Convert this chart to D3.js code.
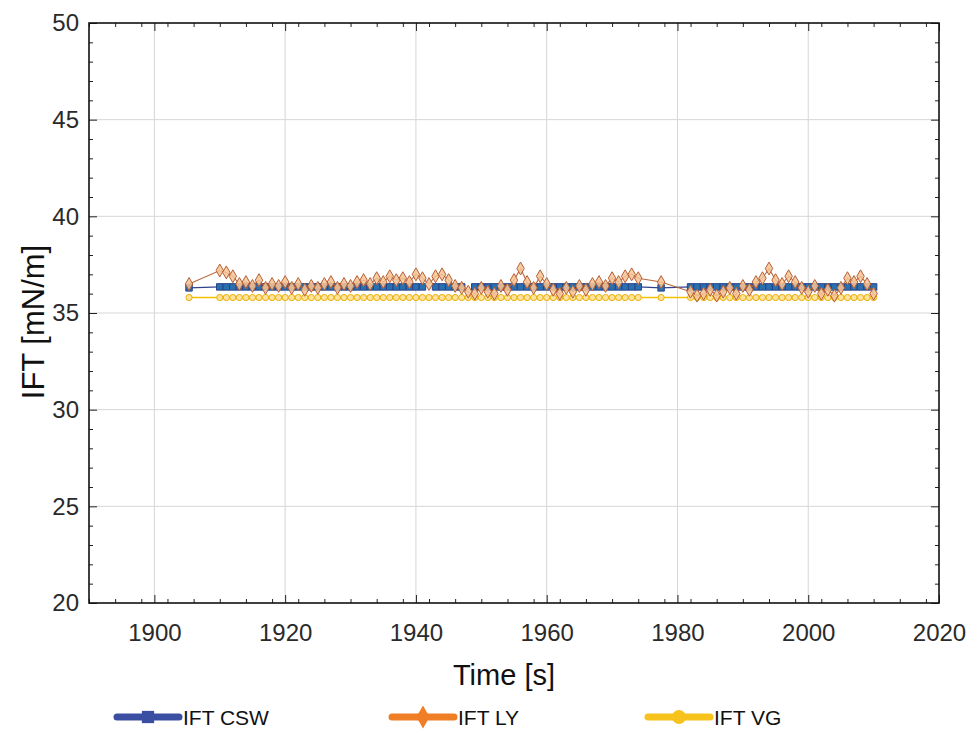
<!DOCTYPE html>
<html>
<head>
<meta charset="utf-8">
<script src="https://cdn.jsdelivr.net/npm/d3@7"></script>
<style>
  body { margin: 0; background: #fff; }
  svg { font-family: "Liberation Sans", Arial, Helvetica, sans-serif; }
</style>
</head>
<body>
<svg id="chart" width="968" height="733"></svg>
<script>
// Sample times in seconds
const timeS = [
  1905.3,
  1910, 1911, 1912, 1913, 1914, 1915, 1916, 1917, 1918, 1919,
  1920, 1921, 1922, 1923, 1924, 1925, 1926, 1927, 1928, 1929,
  1930, 1931, 1932, 1933, 1934, 1935, 1936, 1937, 1938, 1939,
  1940, 1941, 1942, 1943, 1944, 1945, 1946, 1947, 1948, 1949,
  1950, 1951, 1952, 1953, 1954, 1955, 1956, 1957, 1958, 1959,
  1960, 1961, 1962, 1963, 1964, 1965, 1966, 1967, 1968, 1969,
  1970, 1971, 1972, 1973, 1974,
  1977.5,
  1982, 1983, 1984, 1985, 1986, 1987, 1988, 1989,
  1990, 1991, 1992, 1993, 1994, 1995, 1996, 1997, 1998, 1999,
  2000, 2001, 2002, 2003, 2004, 2005, 2006, 2007, 2008, 2009, 2010
];

// Interfacial tension, mN/m (null = no reading)
const iftCSW = [
  36.3,
  36.35, 36.35, 36.35, 36.35, 36.35, 36.35, 36.35, 36.35, 36.35, 36.35,
  36.35, 36.35, 36.35, 36.35, 36.35, 36.35, 36.35, 36.35, 36.35, 36.35,
  36.35, 36.35, 36.35, 36.35, 36.35, 36.35, 36.35, 36.35, 36.35, 36.35,
  36.35, 36.35, null, 36.35, 36.35, 36.35, 36.35, 36.35, null, 36.35,
  36.35, 36.35, 36.35, 36.35, 36.35, 36.35, 36.35, 36.35, 36.35, 36.35,
  36.35, 36.35, 36.35, 36.35, 36.35, 36.35, 36.35, 36.35, 36.35, 36.35,
  36.35, 36.35, 36.35, 36.35, 36.35,
  36.3,
  36.35, 36.35, 36.35, 36.35, 36.35, 36.35, 36.35, 36.35,
  36.35, 36.35, 36.35, 36.35, 36.35, 36.35, 36.35, 36.35, 36.35, 36.35,
  36.35, 36.35, 36.35, 36.35, 36.35, 36.35, 36.35, 36.35, 36.35, 36.35, 36.35
];

const iftLY = [
  36.5,
  37.2, 37.1, 36.9, 36.5, 36.6, 36.4, 36.7, 36.3, 36.5, 36.4,
  36.6, 36.3, 36.5, 36.2, 36.4, 36.3, 36.5, 36.6, 36.3, 36.5,
  36.4, 36.6, 36.7, 36.5, 36.8, 36.6, 36.9, 36.7, 36.8, 36.6,
  37.0, 36.8, 36.5, 36.9, 37.0, 36.7, 36.4, 36.3, 36.1, 36.0,
  36.3, 36.1, 36.0, 36.4, 36.2, 36.7, 37.3, 36.6, 36.3, 36.9,
  36.5, 36.2, 36.0, 36.3, 36.1, 36.4, 36.2, 36.5, 36.6, 36.4,
  36.8, 36.6, 36.9, 37.0, 36.8,
  36.6,
  36.1, 35.9, 36.0, 36.2, 35.9, 36.1, 36.3, 36.0,
  36.4, 36.2, 36.6, 36.8, 37.3, 36.7, 36.5, 36.9, 36.6, 36.3,
  36.1, 36.4, 36.0, 36.2, 35.9, 36.3, 36.8, 36.6, 36.9, 36.5, 36.0
];

const iftVG = [
  35.8,
  35.8, 35.8, 35.8, 35.8, 35.8, 35.8, 35.8, 35.8, 35.8, 35.8,
  35.8, 35.8, 35.8, 35.8, 35.8, 35.8, 35.8, 35.8, 35.8, 35.8,
  35.8, 35.8, 35.8, 35.8, 35.8, 35.8, 35.8, 35.8, 35.8, 35.8,
  35.8, 35.8, 35.8, 35.8, 35.8, 35.8, 35.8, 35.8, 35.8, 35.8,
  35.8, 35.8, 35.8, 35.8, 35.8, 35.8, 35.8, 35.8, 35.8, 35.8,
  35.8, 35.8, 35.8, 35.8, 35.8, 35.8, 35.8, 35.8, 35.8, 35.8,
  35.8, 35.8, 35.8, 35.8, 35.8,
  35.8,
  35.8, 35.8, 35.8, 35.8, 35.8, 35.8, 35.8, 35.8,
  35.8, 35.8, 35.8, 35.8, 35.8, 35.8, 35.8, 35.8, 35.8, 35.8,
  35.8, 35.8, 35.8, 35.8, 35.8, 35.8, 35.8, 35.8, 35.8, 35.8, 35.8
];

const xTicks = [1900, 1920, 1940, 1960, 1980, 2000, 2020];
const yTicks = [20, 25, 30, 35, 40, 45, 50];
const seriesNames = ["IFT CSW", "IFT LY", "IFT VG"];
const xTitle = "Time [s]";
const yTitle = "IFT [mN/m]";

const svg = d3.select("#chart");
const plot = { left: 89, right: 939, top: 23, bottom: 603 };

const x = d3.scaleLinear().domain([1890, 2020]).range([plot.left, plot.right]);
const y = d3.scaleLinear().domain([20, 50]).range([plot.bottom, plot.top]);

const xMinor = d3.range(1890, 2020.01, 4).filter(v => !xTicks.includes(v));
const yMinor = d3.range(20, 50.01, 1).filter(v => !yTicks.includes(v));

// grid
const grid = svg.append("g").attr("stroke", "#d6d6d6").attr("stroke-width", 1);
grid.selectAll(".gx").data(xTicks.filter(v => v > 1890 && v < 2020)).join("line")
  .attr("x1", d => x(d)).attr("x2", d => x(d))
  .attr("y1", plot.top).attr("y2", plot.bottom);
grid.selectAll(".gy").data(yTicks.filter(v => v > 20 && v < 50)).join("line")
  .attr("x1", plot.left).attr("x2", plot.right)
  .attr("y1", d => y(d)).attr("y2", d => y(d));

// axes (ticks point inward)
function styleAxis(g) {
  g.select(".domain").remove();
  g.selectAll(".tick line").attr("stroke", "#222");
  g.selectAll("text").attr("fill", "#2a2a2a").attr("font-size", 24);
}
svg.append("g").attr("transform", `translate(0,${plot.bottom})`)
  .call(d3.axisBottom(x).tickValues(xTicks).tickFormat(d3.format("d")).tickSize(-8).tickPadding(21))
  .call(styleAxis);
svg.append("g").attr("transform", `translate(0,${plot.bottom})`)
  .call(d3.axisBottom(x).tickValues(xMinor).tickFormat("").tickSize(-4))
  .call(styleAxis);
svg.append("g").attr("transform", `translate(0,${plot.top})`)
  .call(d3.axisTop(x).tickValues(xTicks).tickFormat("").tickSize(-8))
  .call(styleAxis);
svg.append("g").attr("transform", `translate(0,${plot.top})`)
  .call(d3.axisTop(x).tickValues(xMinor).tickFormat("").tickSize(-4))
  .call(styleAxis);
svg.append("g").attr("transform", `translate(${plot.left},0)`)
  .call(d3.axisLeft(y).tickValues(yTicks).tickSize(-8).tickPadding(10))
  .call(styleAxis);
svg.append("g").attr("transform", `translate(${plot.left},0)`)
  .call(d3.axisLeft(y).tickValues(yMinor).tickFormat("").tickSize(-4))
  .call(styleAxis);
svg.append("g").attr("transform", `translate(${plot.right},0)`)
  .call(d3.axisRight(y).tickValues(yTicks).tickFormat("").tickSize(-8))
  .call(styleAxis);
svg.append("g").attr("transform", `translate(${plot.right},0)`)
  .call(d3.axisRight(y).tickValues(yMinor).tickFormat("").tickSize(-4))
  .call(styleAxis);

// frame
svg.append("rect")
  .attr("x", plot.left).attr("y", plot.top)
  .attr("width", plot.right - plot.left).attr("height", plot.bottom - plot.top)
  .attr("fill", "none").attr("stroke", "#111").attr("stroke-width", 1.6);

// axis titles
svg.append("text")
  .attr("x", 504).attr("y", 685)
  .attr("text-anchor", "middle").attr("font-size", 29).attr("fill", "#111")
  .text(xTitle);
svg.append("text")
  .attr("transform", "translate(44,322) rotate(-90)")
  .attr("text-anchor", "middle").attr("font-size", 31).attr("fill", "#111")
  .text(yTitle);

// series
const series = [
  { name: seriesNames[0], values: iftCSW, line: "#33428f", lineWidth: 1.3,
    symbol: d3.symbolSquare, size: 42, fill: "#2a6fae", stroke: "#26448c" },
  { name: seriesNames[2], values: iftVG, line: "#f2c200", lineWidth: 1.5,
    symbol: d3.symbolCircle, size: 30, fill: "#fde2a0", stroke: "#eab000" },
  { name: seriesNames[1], values: iftLY, line: "#b8683d", lineWidth: 1.1,
    symbol: d3.symbolDiamond, size: 48, fill: "rgba(246,196,150,0.85)", stroke: "#b85f34" }
];

svg.append("clipPath").attr("id", "plotClip").append("rect")
  .attr("x", plot.left).attr("y", plot.top)
  .attr("width", plot.right - plot.left).attr("height", plot.bottom - plot.top);
const marks = svg.append("g").attr("clip-path", "url(#plotClip)");

series.forEach(s => {
  const pts = timeS.map((t, i) => ({ t, v: s.values[i] }));
  const line = d3.line().defined(d => d.v != null).x(d => x(d.t)).y(d => y(d.v));
  marks.append("path").datum(pts)
    .attr("fill", "none").attr("stroke", s.line).attr("stroke-width", s.lineWidth)
    .attr("d", line);
  marks.append("g").selectAll("path").data(pts.filter(d => d.v != null)).join("path")
    .attr("transform", d => `translate(${x(d.t)},${y(d.v)})`)
    .attr("d", d3.symbol().type(s.symbol).size(s.size))
    .attr("fill", s.fill).attr("stroke", s.stroke).attr("stroke-width", 1);
});

// legend
const legendItems = [
  { name: seriesNames[0], color: "#3a4ea2", symbol: d3.symbolSquare, x0: 117 },
  { name: seriesNames[1], color: "#f07e27", symbol: d3.symbolDiamond, x0: 392 },
  { name: seriesNames[2], color: "#f7c21c", symbol: d3.symbolCircle, x0: 648 }
];
const lg = svg.append("g");
legendItems.forEach(it => {
  const g = lg.append("g").attr("transform", `translate(${it.x0},717)`);
  g.append("line").attr("x1", 0).attr("x2", 62).attr("y1", 0).attr("y2", 0)
    .attr("stroke", it.color).attr("stroke-width", 7).attr("stroke-linecap", "round");
  g.append("path").attr("transform", "translate(31,0)")
    .attr("d", d3.symbol().type(it.symbol).size(150)).attr("fill", it.color);
  g.append("text").attr("x", 66).attr("y", 8)
    .attr("font-size", 21).attr("fill", "#111").text(it.name);
});
</script>
</body>
</html>
